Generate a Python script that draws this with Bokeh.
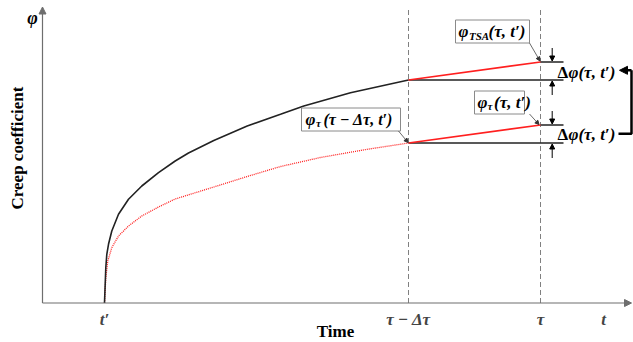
import math
from bokeh.plotting import figure
from bokeh.models import Range1d, Label, Arrow, NormalHead
from bokeh.embed import file_html
from bokeh.resources import INLINE

# ---------------- data (schematic time / creep coefficient units) ----------------
t_prime = 6.2          # t'
t_prev = 36.6          # tau - delta tau
t_tau = 49.8           # tau
t_end = 52.1           # end of the reference horizontals

curve_t = [6.2, 6.33, 6.43, 6.6, 6.93, 7.6, 8.6, 9.93, 11.6, 13.27, 14.6, 17.13, 20.47, 23.8,
           26.13, 30.8, 36.6]
curve_phi = [0.0, 3.53, 4.87, 5.87, 7.2, 8.87, 10.37, 11.7, 13.03, 14.2, 15.0, 16.25, 17.7, 18.87,
             19.7, 21.03, 22.3]

red_t = [6.2, 6.33, 6.53, 6.93, 7.6, 8.6, 9.93, 11.6, 13.27, 17.13, 20.47, 23.8, 27.8, 32.47, 36.6]
red_phi = [0.0, 2.53, 4.2, 5.53, 6.7, 7.7, 8.7, 9.6, 10.4, 11.6, 12.65, 13.65, 14.55, 15.37, 16.0]

phi_tsa = 24.1         # phi_TSA(tau, t')
phi_tau = 17.8         # phi_tau(tau, t')

tick_pos = [t_prime, t_prev, t_tau, 56.1]
tick_labels = ["t\u2032", "\u03c4 \u2212 \u0394\u03c4", "\u03c4", "t"]

# ---------------- figure ----------------
p = figure(width=633, height=342, x_range=Range1d(-4.2, 59.1), y_range=Range1d(-3.95, 30.25),
           output_backend="svg", toolbar_location=None, min_border=0,
           x_axis_type=None, y_axis_type=None)
p.grid.visible = False
p.outline_line_color = None
p.background_fill_color = "white"
p.border_fill_color = "white"

def X(px):
    return (px - 42) / 10.0

def Y(py):
    return (302 - py) / 10.0

SERIF = "Liberation Serif"
GRAY = "#6e6e6e"
RED = "#ff1f1f"

# axes with arrows
p.add_layout(Arrow(end=NormalHead(size=7, fill_color=GRAY, line_color=GRAY),
                   x_start=0, y_start=0, x_end=X(631), y_end=0, line_color=GRAY, line_width=1.2))
p.add_layout(Arrow(end=NormalHead(size=7, fill_color=GRAY, line_color=GRAY),
                   x_start=0, y_start=0, x_end=0, y_end=Y(6), line_color=GRAY, line_width=1.2))

# dashed verticals
p.segment(x0=[t_prev, t_tau], y0=[0, 0], x1=[t_prev, t_tau], y1=[Y(8), Y(8)],
          line_color="#808080", line_width=1, line_dash="5 3")

# curves
p.line(red_t, red_phi, line_color=RED, line_width=1.3, line_dash="1 1")
p.line(curve_t, curve_phi, line_color="#222222", line_width=1.6)

# horizontals and red increments
p.segment(x0=[t_prev, t_tau, t_prev, t_tau], y0=[curve_phi[-1], phi_tsa, red_phi[-1], phi_tau],
          x1=[t_end, t_end, t_end, t_end], y1=[curve_phi[-1], phi_tsa, red_phi[-1], phi_tau],
          line_color="#222222", line_width=1.4)
p.segment(x0=[t_prev, t_prev], y0=[curve_phi[-1], red_phi[-1]],
          x1=[t_tau, t_tau], y1=[phi_tsa, phi_tau], line_color=RED, line_width=1.6)

# delta arrows
xa = X(551.7)
for y0, y1 in [(phi_tsa + 1.4, phi_tsa + 0.1), (curve_phi[-1] - 1.5, curve_phi[-1] - 0.1),
               (phi_tau + 1.4, phi_tau + 0.1), (red_phi[-1] - 1.5, red_phi[-1] - 0.1)]:
    p.add_layout(Arrow(end=NormalHead(size=5, fill_color="black", line_color="black"),
                       x_start=xa, y_start=y0, x_end=xa, y_end=y1, line_color="black", line_width=1))

# bracket arrow
p.line([X(618), X(631), X(631)], [Y(132.7), Y(132.7), Y(69.3)], line_color="black", line_width=2.5)
p.add_layout(Arrow(end=NormalHead(size=8, fill_color="black", line_color="black"),
                   x_start=X(631), y_start=Y(69.3), x_end=X(619), y_end=Y(69.3),
                   line_color="black", line_width=2.5))

# boxes
boxes = [(455, 529, 19, 42), (474, 524, 90, 113), (301, 400, 107, 130)]
p.quad(left=[X(b[0]) for b in boxes], right=[X(b[1]) for b in boxes],
       top=[Y(b[2]) for b in boxes], bottom=[Y(b[3]) for b in boxes],
       fill_color="white", line_color="#8a8a8a", line_width=1)

# leader lines
for (x0, y0, x1, y1) in [(529, 42, 539.5, 60), (529, 113, 538.5, 123.5), (398, 130, 407.5, 141.5)]:
    p.add_layout(Arrow(end=NormalHead(size=4, fill_color="#333333", line_color="#333333"),
                       x_start=X(x0), y_start=Y(y0), x_end=X(x1), y_end=Y(y1),
                       line_color="#444444", line_width=0.8))

def txt(px, py, s, size=16, style="bold italic", align="left", angle=0.0, baseline="middle"):
    p.add_layout(Label(x=X(px), y=Y(py), text=s, text_font=SERIF, text_font_size=f"{size}px",
                       text_font_style=style, text_align=align, text_baseline=baseline,
                       angle=angle, text_color="black"))

# box contents
txt(458, 30.5, "\u03c6", size=17)
txt(468.5, 34.5, "TSA", size=11)
txt(488, 30.5, "(\u03c4, t\u2032)", size=17)

txt(477, 101.5, "\u03c6", size=17)
txt(487, 105, "\u03c4", size=11)
txt(493.5, 101.5, "(\u03c4, t\u2032)", size=17)

txt(305, 118.5, "\u03c6", size=17)
txt(315.5, 122, "\u03c4", size=11)
txt(323, 118.5, "(\u03c4 \u2212 \u0394\u03c4, t\u2032)")

# delta-phi labels
for py in (71.7, 133):
    txt(557, py, "\u0394", style="bold", size=17)
    txt(568, py, "\u03c6(\u03c4, t\u2032)", size=17)

# tick labels
for tp, tl in zip(tick_pos, tick_labels):
    p.add_layout(Label(x=tp, y=Y(318), text=tl, text_font=SERIF, text_font_size="17px",
                       text_font_style="bold italic", text_align="center", text_baseline="middle"))

# axis titles
txt(335, 330.5, "Time", size=17, style="bold", align="center")
txt(17, 147, "Creep coefficient", size=17, style="bold", align="center", angle=math.pi / 2)
txt(32, 17, "\u03c6", size=18, align="center")

open("out.html", "w").write(file_html(p, INLINE))
